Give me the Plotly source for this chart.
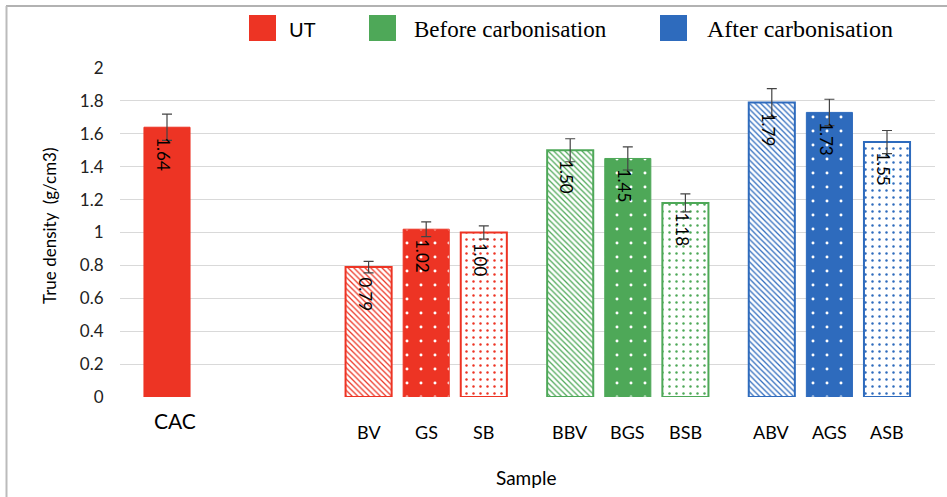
import plotly.graph_objects as go

# ---- data ----
categories = ["CAC", "BV", "GS", "SB", "BBV", "BGS", "BSB", "ABV", "AGS", "ASB"]
values = [1.64, 0.79, 1.02, 1.00, 1.50, 1.45, 1.18, 1.79, 1.73, 1.55]
errors = [0.08, 0.035, 0.045, 0.04, 0.07, 0.07, 0.055, 0.085, 0.08, 0.07]
series = ["UT", "UT", "UT", "UT",
          "Before carbonisation", "Before carbonisation", "Before carbonisation",
          "After carbonisation", "After carbonisation", "After carbonisation"]
fill_styles = ["solid", "hatch", "dots", "light_dots",
               "hatch", "dots", "light_dots",
               "hatch", "dots", "light_dots"]
labels = ["1.64", "0.79", "1.02", "1.00", "1.50", "1.45", "1.18", "1.79", "1.73", "1.55"]
legend_names = ["UT", "Before carbonisation", "After carbonisation"]
y_ticks = [0, 0.2, 0.4, 0.6, 0.8, 1, 1.2, 1.4, 1.6, 1.8, 2]

# extra category slots left empty before each bar (group separation)
gap_before = [0, 2.5, 0, 0, 0.5, 0, 0, 0.5, 0, 0]

colors = {"UT": "#ED3424", "Before carbonisation": "#4EA858", "After carbonisation": "#2E6BBD"}

positions = []
p = 0.0
for i, g in enumerate(gap_before):
    p = 0.0 if i == 0 else p + 1 + g
    positions.append(p)

# ---- layout geometry (pixels) ----
W, H = 947, 497
ML, MR, MT, MB = 120, 12, 68, 100
PW, PH = W - ML - MR, H - MT - MB


def px(xp):
    return (xp - ML) / PW


def py(yp):
    return (H - MB - yp) / PH


fig = go.Figure()

for i in range(len(categories)):
    c = colors[series[i]]
    style = fill_styles[i]
    marker = dict(color=c, line=dict(color=c, width=1))
    if style == "hatch":
        marker["pattern"] = dict(shape="\\", fgcolor=c, bgcolor="white", size=4,
                                 solidity=0.32, fillmode="replace")
        marker["line"] = dict(color=c, width=2)
    elif style == "dots":
        marker["pattern"] = dict(shape=".", fgcolor="white", bgcolor=c, size=14,
                                 solidity=0.035, fillmode="replace")
    elif style == "light_dots":
        marker["pattern"] = dict(shape=".", fgcolor=c, bgcolor="white", size=7,
                                 solidity=0.1, fillmode="replace")
        marker["line"] = dict(color=c, width=2)
    fig.add_trace(go.Bar(
        x=[positions[i]], y=[values[i]], width=0.8, name=categories[i],
        marker=marker, showlegend=False,
        error_y=dict(type="data", array=[errors[i]], color="#444444",
                     thickness=1.2, width=5),
    ))
    fig.add_annotation(x=positions[i], y=values[i], xref="x", yref="y",
                       text=labels[i], showarrow=False, textangle=90,
                       yanchor="top", xanchor="center", yshift=-8, xshift=-3,
                       font=dict(family="Lato", size=17, color="black"))

# x category labels
for i in range(1, len(categories)):
    fig.add_annotation(x=positions[i], y=py(432), xref="x", yref="paper",
                       text=categories[i], showarrow=False, yanchor="middle",
                       font=dict(family="Lato", size=18, color="black"))
fig.add_annotation(x=positions[0], y=py(420), xref="x", yref="paper",
                   text=categories[0], showarrow=False, yanchor="middle", xshift=8,
                   font=dict(family="Lato", size=21, color="black"))

# axis titles
fig.add_annotation(x=px(526), y=py(477), xref="paper", yref="paper", text="Sample",
                   showarrow=False, yanchor="middle",
                   font=dict(family="Lato", size=19, color="black"))
fig.add_annotation(x=px(49), y=py(226), xref="paper", yref="paper",
                   text="True density  (g/cm3)", showarrow=False, textangle=-90,
                   xanchor="center", yanchor="middle",
                   font=dict(family="Lato", size=17, color="black"))

# custom legend
leg_sq = [(249, 276), (369, 396), (660, 687)]
leg_txt = [287, 412, 705]
leg_fonts = [dict(family="Lato", size=20, color="black"),
             dict(family="Liberation Serif", size=23, color="black"),
             dict(family="Liberation Serif", size=24, color="black")]
for k, name in enumerate(legend_names):
    x0, x1 = leg_sq[k]
    fig.add_shape(type="rect", xref="paper", yref="paper",
                  x0=px(x0), x1=px(x1), y0=py(41), y1=py(15),
                  fillcolor=colors[name], line=dict(width=0))
    fig.add_annotation(x=px(leg_txt[k]), y=py(29), xref="paper", yref="paper",
                       text=name, showarrow=False, xanchor="left", yanchor="middle",
                       font=leg_fonts[k])

# outer frame (top and left)
fig.add_shape(type="line", xref="paper", yref="paper", x0=px(6), x1=px(W),
              y0=py(6), y1=py(6), line=dict(color="#999999", width=1.5))
fig.add_shape(type="line", xref="paper", yref="paper", x0=px(6.5), x1=px(6.5),
              y0=py(6), y1=py(H), line=dict(color="#BBBBBB", width=2))

x_left = -(167 - ML) / 57.6
x_right = x_left + PW / 57.6

fig.update_layout(
    width=W, height=H, margin=dict(l=ML, r=MR, t=MT, b=MB),
    paper_bgcolor="white", plot_bgcolor="white", barmode="overlay",
    xaxis=dict(range=[x_left, x_right], showticklabels=False, showgrid=False,
               zeroline=False, showline=False, ticks=""),
    yaxis=dict(range=[0, 2], tickvals=y_ticks, ticktext=[f"{v:g}" for v in y_ticks],
               showgrid=True, gridcolor="#D9D9D9", gridwidth=1, zeroline=False,
               showline=False, ticks="outside", ticklen=12, tickcolor="rgba(0,0,0,0)",
               tickfont=dict(family="Lato", size=17, color="#222222")),
    font=dict(family="Lato"),
)

fig.write_html("out.html", config={"displayModeBar": False},
               post_script="document.body.style.margin='0px';")
